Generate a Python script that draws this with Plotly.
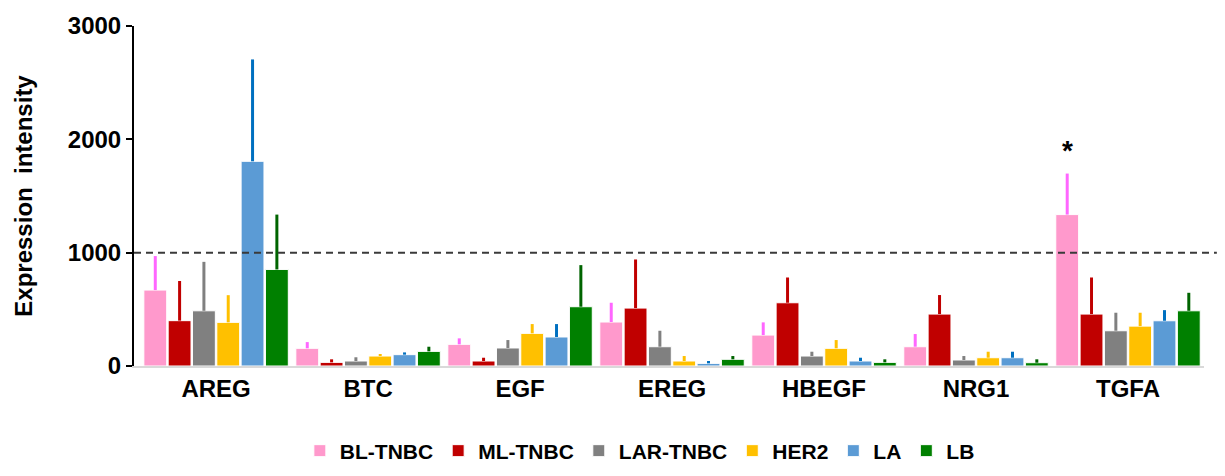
import plotly.graph_objects as go

genes = ["AREG", "BTC", "EGF", "EREG", "HBEGF", "NRG1", "TGFA"]
subtypes = ["BL-TNBC", "ML-TNBC", "LAR-TNBC", "HER2", "LA", "LB"]

bl_tnbc = [670, 156, 191, 388, 273, 170, 1336]
ml_tnbc = [400, 32, 44, 511, 558, 458, 458]
lar_tnbc = [487, 44, 159, 170, 88, 53, 311]
her2 = [385, 88, 288, 44, 156, 73, 352]
la = [1806, 100, 256, 23, 44, 73, 399]
lb = [852, 129, 523, 59, 32, 29, 487]

bl_err = [300, 55, 53, 170, 112, 112, 362]
ml_err = [350, 27, 29, 429, 223, 168, 323]
lar_err = [432, 33, 70, 141, 38, 35, 159]
her2_err = [240, 18, 82, 44, 73, 53, 118]
la_err = [899, 20, 114, 21, 29, 53, 94]
lb_err = [484, 41, 367, 29, 27, 30, 159]

threshold = 1000

values = [bl_tnbc, ml_tnbc, lar_tnbc, her2, la, lb]
errors = [bl_err, ml_err, lar_err, her2_err, la_err, lb_err]
bar_colors = ["#ff99cc", "#c00000", "#808080", "#ffc000", "#5b9bd5", "#008000"]
err_colors = ["#ff66ff", "#c00000", "#808080", "#ffc000", "#0070c0", "#006400"]

fig = go.Figure()
for name, v, e, c, ec in zip(subtypes, values, errors, bar_colors, err_colors):
    fig.add_trace(go.Bar(
        name=name, x=genes, y=v,
        marker=dict(color=c, line=dict(color="white", width=1)),
        error_y=dict(type="data", array=e, arrayminus=[0] * len(e), symmetric=False,
                     color=ec, thickness=3, width=0),
    ))

fig.add_shape(type="line", xref="paper", yref="y", x0=0, x1=1.012, y0=threshold, y1=threshold,
              line=dict(color="#3a3a3a", width=2, dash="7px,5px"), layer="above")

fig.add_annotation(x="TGFA", y=bl_tnbc[6] + bl_err[6], text="<b>*</b>", showarrow=False,
                   xshift=-61, yshift=6, yanchor="bottom",
                   font=dict(family="Liberation Sans", size=28, color="black"))

fig.update_layout(
    width=1225, height=476,
    margin=dict(l=126, r=29, t=18, b=118, autoexpand=False),
    paper_bgcolor="white", plot_bgcolor="white",
    barmode="group", bargap=0.04, bargroupgap=0.06,
    font=dict(family="Liberation Sans", color="black"),
    showlegend=True,
    legend=dict(orientation="h", x=0.155, y=-0.25, xanchor="left", yanchor="middle",
                font=dict(size=21, family="Liberation Sans", weight="bold"),
                itemwidth=30, tracegroupgap=0),
    xaxis=dict(type="category", range=[-0.54, 6.5], showline=True, linecolor="#d9d9d9", linewidth=2,
               ticks="", tickfont=dict(size=24, weight="bold"), showgrid=False, automargin=False),
    yaxis=dict(range=[0, 3000], tickvals=[0, 1000, 2000, 3000], showline=True, linecolor="black",
               linewidth=2, ticks="outside", ticklen=6, tickwidth=2, tickcolor="black",
               tickfont=dict(size=24, weight="bold"), showgrid=False, zeroline=False, automargin=False,
               title=dict(text="Expression  intensity", font=dict(size=24, weight="bold"), standoff=28)),
)

fig.write_html("out.html")
